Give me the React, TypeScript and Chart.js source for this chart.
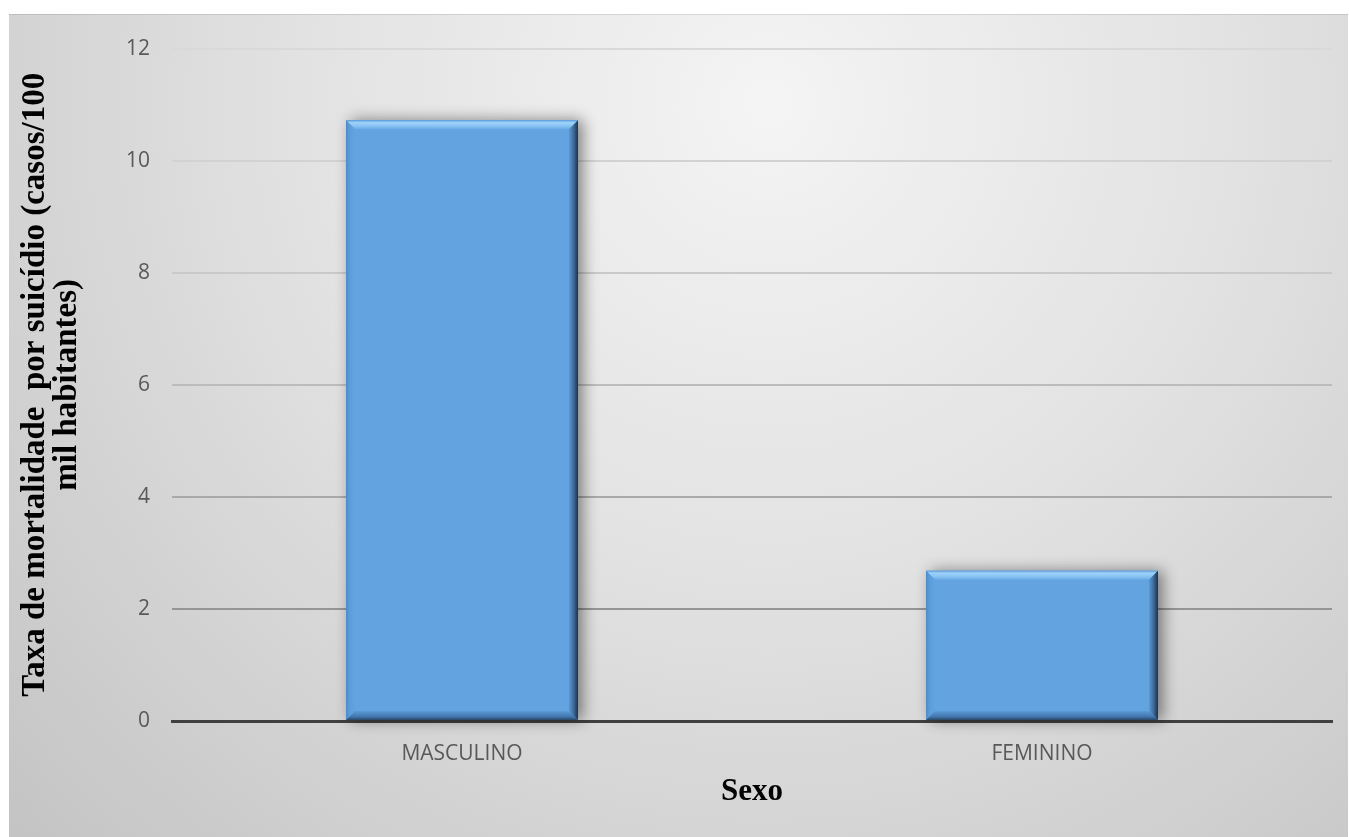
import React, { useEffect, useRef } from "react";
import { Chart, registerables } from "chart.js";

Chart.register(...registerables);

// Suicide mortality rate by sex (cases per 100 thousand inhabitants)
const categories: string[] = ["MASCULINO", "FEMININO"];
const rates: number[] = [10.72, 2.68];
const yTicks: number[] = [0, 2, 4, 6, 8, 10, 12];
const yTitle: string[] = ["Taxa de mortalidade  por suicídio (casos/100", "mil habitantes)"];
const xTitle = "Sexo";

const CANVAS_W = 1339;
const CANVAS_H = 823;

// Soft radial backdrop for the whole chart frame
const backdrop = {
  id: "backdrop",
  beforeDraw(chart: any) {
    const { ctx, width, height } = chart;
    ctx.save();
    const g = ctx.createRadialGradient(760, 90, 0, 760, 90, 1050);
    g.addColorStop(0, "#f4f4f4");
    g.addColorStop(0.45, "#e2e2e2");
    g.addColorStop(1, "#c4c4c4");
    ctx.fillStyle = g;
    ctx.fillRect(0, 0, width, height);
    ctx.strokeStyle = "rgba(0,0,0,0.10)";
    ctx.lineWidth = 1;
    ctx.beginPath();
    ctx.moveTo(0, 0.5);
    ctx.lineTo(width, 0.5);
    ctx.stroke();
    ctx.restore();
  },
};

function barRects(chart: any) {
  const meta = chart.getDatasetMeta(0);
  return meta.data.map((el: any) => {
    const p = el.getProps(["x", "y", "base", "width"], true);
    return { L: p.x - p.width / 2, R: p.x + p.width / 2, T: p.y, B: p.base };
  });
}

function poly(ctx: CanvasRenderingContext2D, pts: number[][], fill: any) {
  ctx.beginPath();
  ctx.moveTo(pts[0][0], pts[0][1]);
  for (let i = 1; i < pts.length; i++) ctx.lineTo(pts[i][0], pts[i][1]);
  ctx.closePath();
  ctx.fillStyle = fill;
  ctx.fill();
}

// Drop shadow behind the bars and a bevelled rim on top of them
const bevel = {
  id: "bevel",
  beforeDatasetsDraw(chart: any) {
    const { ctx } = chart;
    ctx.save();
    for (const r of barRects(chart)) {
      ctx.shadowColor = "rgba(0,0,0,0.45)";
      ctx.shadowBlur = 14;
      ctx.shadowOffsetX = 5;
      ctx.shadowOffsetY = 0;
      ctx.fillStyle = "#62a3e0";
      ctx.fillRect(r.L, r.T, r.R - r.L, r.B - r.T);
    }
    ctx.restore();
  },
  afterDatasetsDraw(chart: any) {
    const { ctx } = chart;
    const b = 9;
    ctx.save();
    for (const { L, R, T, B } of barRects(chart)) {
      const top = ctx.createLinearGradient(0, T, 0, T + b);
      top.addColorStop(0, "#5e9fdc");
      top.addColorStop(0.25, "#9fd2fb");
      top.addColorStop(0.6, "#8ac4f4");
      top.addColorStop(1, "#6aaae6");
      poly(ctx, [[L, T], [R, T], [R - b, T + b], [L + b, T + b]], top);

      const left = ctx.createLinearGradient(L, 0, L + b, 0);
      left.addColorStop(0, "#4c8bc8");
      left.addColorStop(0.4, "#5b9cdb");
      left.addColorStop(1, "#62a3e0");
      poly(ctx, [[L, T], [L + b, T + b], [L + b, B - b], [L, B]], left);

      const bottom = ctx.createLinearGradient(0, B - b, 0, B);
      bottom.addColorStop(0, "#5c9ad6");
      bottom.addColorStop(0.6, "#4379b0");
      bottom.addColorStop(1, "#2b4868");
      poly(ctx, [[L, B], [R, B], [R - b, B - b], [L + b, B - b]], bottom);

      const right = ctx.createLinearGradient(R - b, 0, R, 0);
      right.addColorStop(0, "#5a99d4");
      right.addColorStop(0.5, "#3d6c9c");
      right.addColorStop(1, "#1c3148");
      poly(ctx, [[R, T], [R, B], [R - b, B - b], [R - b, T + b]], right);
    }
    ctx.restore();
  },
};

const gridShades: Record<number, string> = {
  0: "rgba(0,0,0,0)",
  2: "#959595",
  4: "#a9a9a9",
  6: "#bcbcbc",
  8: "#c9c9c9",
  10: "#d2d2d2",
  12: "#d9d9d9",
};

const tickFont = { family: "'Open Sans', sans-serif", size: 21 };

export default function App() {
  const ref = useRef<HTMLCanvasElement | null>(null);

  useEffect(() => {
    if (!ref.current) return;
    const chart = new Chart(ref.current, {
      type: "bar",
      data: {
        labels: categories,
        datasets: [
          {
            data: rates,
            backgroundColor: "#62a3e0",
            borderWidth: 0,
            categoryPercentage: 1,
            barPercentage: 0.4,
          },
        ],
      },
      plugins: [backdrop, bevel],
      options: {
        responsive: false,
        animation: false,
        maintainAspectRatio: false,
        layout: { padding: { top: 30, right: 16, left: 0, bottom: 0 } },
        plugins: {
          legend: { display: false },
          tooltip: { enabled: false },
        },
        scales: {
          x: {
            grid: { display: false, drawTicks: false },
            border: { display: true, color: "#404040", width: 3 },
            ticks: {
              color: "#595959",
              font: tickFont,
              padding: 20,
            },
            title: {
              display: true,
              text: xTitle,
              color: "#000000",
              font: { family: "'Liberation Serif', 'Times New Roman', serif", size: 31, weight: "bold", lineHeight: 1.05 },
              padding: { top: 0, bottom: 29 },
            },
            afterFit(scale: any) {
              scale.height = 116;
            },
          },
          y: {
            min: 0,
            max: 12,
            afterBuildTicks(scale: any) {
              scale.ticks = yTicks.map((v) => ({ value: v }));
            },
            grid: {
              drawTicks: false,
              lineWidth: 2,
              color: (c: any) => gridShades[c.tick?.value] ?? "#cccccc",
            },
            border: { display: false },
            ticks: {
              color: "#595959",
              font: tickFont,
              padding: 22,
            },
            title: {
              display: true,
              text: yTitle,
              color: "#000000",
              font: { family: "'Liberation Serif', 'Times New Roman', serif", size: 33, weight: "bold", lineHeight: 0.95 },
              padding: { top: 11, bottom: 0 },
            },
            afterFit(scale: any) {
              scale.width = 163;
            },
          },
        },
      },
    });
    return () => chart.destroy();
  }, []);

  return (
    <div style={{ position: "absolute", left: 9, top: 14, width: CANVAS_W, height: CANVAS_H }}>
      <canvas ref={ref} width={CANVAS_W} height={CANVAS_H} style={{ display: "block" }} />
    </div>
  );
}
